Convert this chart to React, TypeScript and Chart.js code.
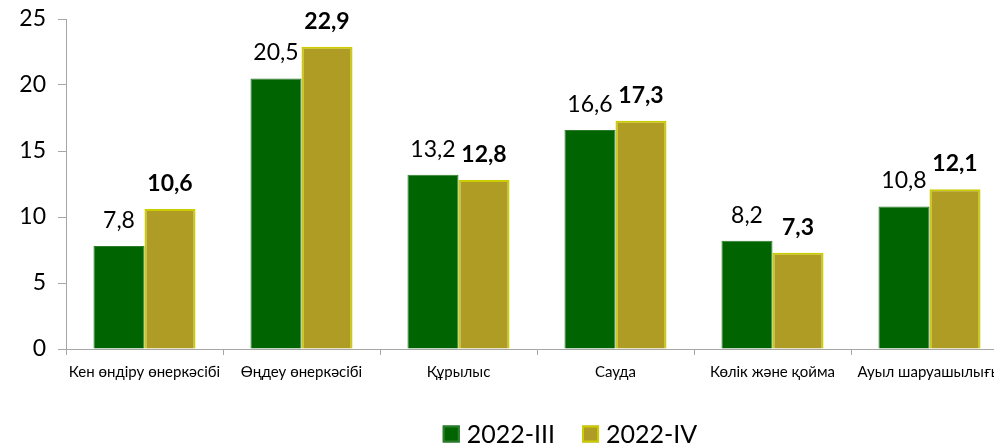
import React, { useEffect, useRef } from "react";
import { Chart, registerables } from "chart.js";

Chart.register(...registerables);

const categories = [
  "Кен өндіру өнеркәсібі",
  "Өңдеу өнеркәсібі",
  "Құрылыс",
  "Сауда",
  "Көлік және қойма",
  "Ауыл шаруашылығы",
];
const seriesNames = ["2022-III", "2022-IV"];
const seriesIII = [7.8, 20.5, 13.2, 16.6, 8.2, 10.8];
const seriesIV = [10.6, 22.9, 12.8, 17.3, 7.3, 12.1];
const yTicks = [0, 5, 10, 15, 20, 25];

const GREEN = "#006400";
const OLIVE = "#AE9C25";
const YELLOW = "#CCCC00";
const FONT = "Lato, 'Noto Sans', sans-serif";

const fmt = (v: number) => v.toFixed(1).replace(".", ",");

const dataLabels = {
  id: "dataLabels",
  afterDatasetsDraw(chart: any) {
    const ctx = chart.ctx;
    ctx.save();
    ctx.textAlign = "center";
    ctx.textBaseline = "alphabetic";
    ctx.fillStyle = "#000";
    chart.data.datasets.forEach((ds: any, di: number) => {
      const meta = chart.getDatasetMeta(di);
      ctx.font = (di === 1 ? "bold " : "") + "23px " + FONT;
      meta.data.forEach((el: any, i: number) => {
        ctx.fillText(fmt(ds.data[i]), el.x, el.y - 18);
      });
    });
    ctx.restore();
  },
};

const customLegend = {
  id: "customLegend",
  afterDraw(chart: any) {
    const ctx = chart.ctx;
    const ca = chart.chartArea;
    ctx.save();
    ctx.font = "25px " + FONT;
    ctx.textBaseline = "middle";
    const box = 17;
    const gapBoxText = 7;
    const gapItems = 27;
    const items = chart.data.datasets.map((ds: any) => ({
      label: ds.label,
      bg: ds.backgroundColor,
      border: ds.borderColor,
      w: ctx.measureText(ds.label).width,
    }));
    let total = 0;
    items.forEach((it: any, i: number) => {
      total += box + gapBoxText + it.w + (i < items.length - 1 ? gapItems : 0);
    });
    const cx = (ca.left + ca.right) / 2 + 33;
    let x = cx - total / 2;
    const cy = 434;
    items.forEach((it: any) => {
      ctx.fillStyle = it.bg;
      ctx.fillRect(x, cy - box / 2, box, box);
      if (it.border && it.border !== it.bg) {
        ctx.strokeStyle = it.border;
        ctx.lineWidth = 2;
        ctx.strokeRect(x + 1, cy - box / 2 + 1, box - 2, box - 2);
      }
      x += box + gapBoxText;
      ctx.fillStyle = "#000";
      ctx.fillText(it.label, x, cy + 1);
      x += it.w + gapItems;
    });
    ctx.restore();
  },
};

export default function App() {
  const ref = useRef<HTMLCanvasElement | null>(null);
  useEffect(() => {
    if (!ref.current) return;
    const chart = new Chart(ref.current, {
      type: "bar",
      data: {
        labels: categories,
        datasets: [
          {
            label: seriesNames[0],
            data: seriesIII,
            backgroundColor: GREEN,
            borderColor: "#2E7D2E",
            borderWidth: 1,
            categoryPercentage: 0.65,
            barPercentage: 1,
          },
          {
            label: seriesNames[1],
            data: seriesIV,
            backgroundColor: OLIVE,
            borderColor: YELLOW,
            borderWidth: 2,
            categoryPercentage: 0.65,
            barPercentage: 1,
          },
        ],
      },
      options: {
        animation: false,
        responsive: false,
        maintainAspectRatio: false,
        layout: { padding: { left: 0, right: 2, top: 19, bottom: 56 } },
        plugins: {
          legend: { display: false },
          tooltip: { enabled: false },
        },
        scales: {
          x: {
            grid: {
              display: true,
              offset: true,
              drawOnChartArea: false,
              drawTicks: true,
              tickLength: 6,
              color: "#A6A6A6",
            },
            border: { display: true, color: "#A6A6A6", width: 1 },
            ticks: {
              font: { family: FONT, size: 15 },
              color: "#000",
              padding: 8,
              maxRotation: 0,
              autoSkip: false,
            },
            afterFit: (s: any) => {
              s.height = 40;
            },
          },
          y: {
            min: 0,
            max: 25,
            afterBuildTicks: (s: any) => {
              s.ticks = yTicks.map((v) => ({ value: v }));
            },
            grid: {
              display: true,
              drawOnChartArea: false,
              drawTicks: true,
              tickLength: 8,
              color: "#A6A6A6",
            },
            border: { display: true, color: "#A6A6A6", width: 1 },
            ticks: {
              font: { family: FONT, size: 23 },
              color: "#000",
              padding: 12,
            },
            afterFit: (s: any) => {
              s.width = 66;
              s.paddingTop = 0;
              s.paddingBottom = 0;
            },
          },
        },
      },
      plugins: [dataLabels, customLegend],
    });
    return () => chart.destroy();
  }, []);
  return (
    <div
      style={{
        position: "fixed",
        left: 0,
        top: 0,
        width: 994,
        height: 445,
        overflow: "hidden",
        background: "#fff",
      }}
    >
      <canvas ref={ref} width={1010} height={445} style={{ display: "block" }} />
    </div>
  );
}
